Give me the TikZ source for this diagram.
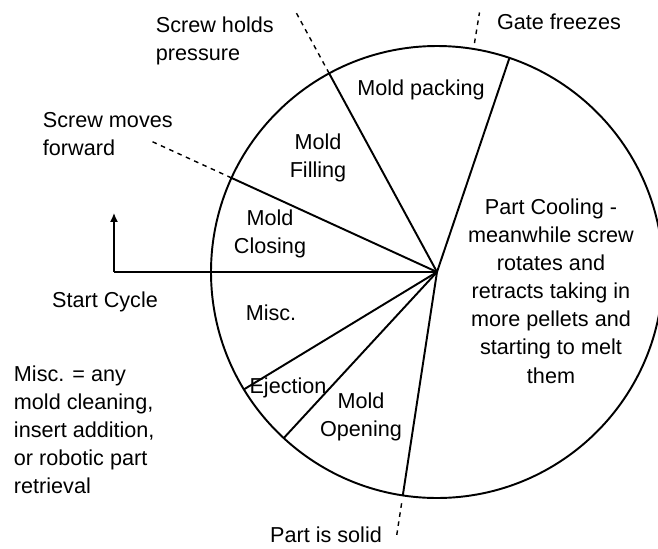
\documentclass[tikz,border=0pt]{standalone}
\usepackage{fontspec}
\setmainfont{Liberation Sans}
\usepackage{tikz}
\usetikzlibrary{arrows.meta}

\begin{document}
\begin{tikzpicture}[font=\fontsize{12.3}{16}\selectfont, line width=1.1pt,
  >={Latex[length=5pt,width=4.5pt]},
  event/.style={line width=0.8pt, dash pattern=on 2.6pt off 2.6pt},
  phase/.style={align=center, inner sep=0pt},
  note/.style={align=left, anchor=west, inner sep=0pt}]
\useasboundingbox (-8.74,-5.52) rectangle (4.42,5.44);
\clip (-8.74,-5.52) rectangle (4.42,5.44);
\def\R{4.52}

\coordinate (c) at (0,0);
\draw (c) circle (\R);
\foreach \a in {155.4,118.5,71.3,-98.7,227.3,211.3}
  \draw (c) -- (\a:\R);

\coordinate (start) at (-6.46,0);
\coordinate (up) at (-6.46,1.18);
\draw (start) -- (c);
\draw[line width=0.8pt,->] (start) -- (up);

\draw[event] (118.5:\R) -- (118.5:5.96);
\draw[event] (155.4:\R) -- (155.4:6.27);
\draw[event] (80.7:4.64) -- (80.7:5.26);
\draw[event] (-98.7:4.68) -- (-98.7:5.36);

\node[phase] (packing) at (-0.32,3.64) {Mold packing};
\node[phase] (filling) at (-2.38,2.28) {Mold\\Filling};
\node[phase] (closing) at (-3.34,0.76) {Mold\\Closing};
\node[phase] (misc) at (-3.32,-0.82) {Misc.};
\node[phase] (eject) at (-2.98,-2.32) {Ejection};
\node[phase] (opening) at (-1.52,-2.9) {Mold\\Opening};
\node[phase] (cooling) at (2.28,-0.38) {Part Cooling -\\meanwhile screw\\rotates and\\retracts taking in\\more pellets and\\starting to melt\\them};

\node[phase] (gate) at (2.44,5.0) {Gate freezes};
\node[note] (holds) at (-5.64,4.62) {Screw holds\\pressure};
\node[note] (forward) at (-7.9,2.76) {Screw moves\\forward};
\node[phase] (cycle) at (-6.64,-0.6) {Start Cycle};
\node[note] (miscnote) at (-8.48,-3.16) {Misc. = any\\mold cleaning,\\insert addition,\\or robotic part\\retrieval};
\node[phase] (solid) at (-2.22,-5.26) {Part is solid};

\end{tikzpicture}
\end{document}
